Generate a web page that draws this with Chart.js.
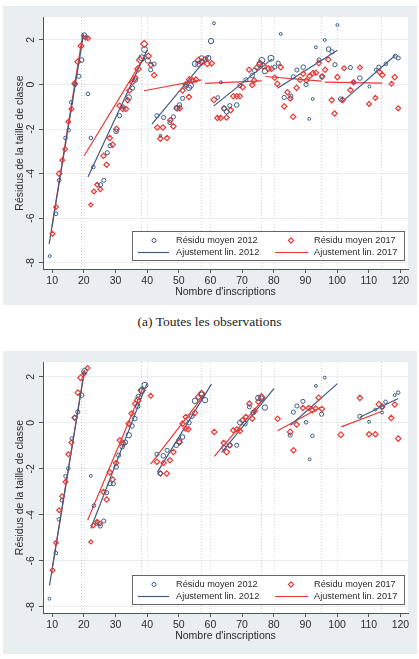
<!DOCTYPE html>
<html><head><meta charset="utf-8">
<script src="https://cdn.jsdelivr.net/npm/chart.js@4/dist/chart.umd.min.js"></script>
<style>
body{margin:0;background:#fff;width:419px;height:659px;position:relative;overflow:hidden;font-family:"Liberation Sans",Arial,sans-serif}
.panel{position:absolute;left:3px;width:414px;background:#e9eef1}
#p1{top:6px;height:299px}
#p2{top:351px;height:303px}
canvas{display:block}
.caption{position:absolute;left:0;width:419px;top:314px;text-align:center;font-family:"Liberation Serif","DejaVu Serif",serif;font-size:13.5px;color:#222}
</style></head>
<body>
<div class="panel" id="p1"><canvas id="c1" width="414" height="299"></canvas></div>
<div class="caption">(a) Toutes les observations</div>
<div class="panel" id="p2"><canvas id="c2" width="414" height="303"></canvas></div>
<script>
// ---- Data (x = nombre d'inscriptions, y = résidu moyen, n = poids) ----
const xTicks = [10,20,30,40,50,60,70,80,90,100,110,120];
const yTicks = [2,0,-2,-4,-6,-8];
const grilleX = [20,40,60,80,100];
const seuils = [19,38,57,76,95,114];
const legendLabels = ['Résidu moyen 2012','Résidu moyen 2017','Ajustement lin. 2012','Ajustement lin. 2017'];

const p1_2012 = [[9.2,-7.7,1],[11.2,-5.8,2],[12.2,-4.3,2],[14.2,-2.4,2],[15.2,-2.05,2],[16.0,-0.8,2],[17.2,0.0,3],[18.4,0.37,3],[19.3,1.1,4],[20.1,2.2,6],
[21.3,-0.42,2],[22.2,-2.4,2],[23.0,-3.7,2],[25.3,-4.5,3],[26.3,-4.3,3],[27.4,-3.06,3],[28.3,-2.75,3],[30.2,-2.1,4],[31.3,-1.4,3],[32.3,-1.0,3],[34.2,-0.58,6],[35.4,-0.16,3],[36.3,0.2,3],[38.3,1.2,8],[39.2,1.57,8],[40.2,1.08,6],
[41.1,0.66,3],[42.2,0.92,3],[43.1,-1.4,3],[44.2,-2.3,1],[45.2,-1.48,3],[47.2,-1.71,3],[48.3,-1.45,3],[49.2,-1.05,4],[50.2,-0.92,4],[51.2,-0.62,3],[52.2,-0.08,3],[53.2,-0.15,6],[53.8,-0.05,6],[55.1,0.93,6],[56.2,0.93,6],[57.2,1.19,4],[59.3,1.19,6],[60.2,1.95,6],[61.1,2.75,1],
[62.3,-0.58,2],[63.3,0.1,1],[64.3,-1.07,4],[65.1,-1.22,4],[66.1,-0.95,3],[68.3,-0.92,4],[69.3,-0.05,3],[71.2,0.21,3],[73.2,0.4,4],[74.0,0.63,4],[75.6,0.9,6],[76.2,1.08,8],[77.2,0.6,6],[79.1,1.18,8],[80.3,0.78,3],[81.4,0.96,3],
[82.2,2.27,1],[83.3,-0.58,3],[85.4,-0.52,3],[86.2,0.35,3],[87.3,0.65,3],[89.3,0.78,4],[90.2,0.0,3],[91.2,-1.54,1],[92.3,-0.65,1],[93.3,1.67,1],[94.3,1.1,3],[95.2,0.33,3],[96.1,2.0,1],[97.3,1.59,4],[98.4,1.47,3],[99.3,0.89,3],[100.1,2.67,1],
[101.1,-0.65,3],[104.2,0.76,3],[105.2,0.1,1],[107.2,0.29,4],[110.2,-0.09,1],[112.2,0.66,1],[113.2,0.78,3],[115.4,0.93,2],[118.4,1.27,3],[119.3,1.19,3]];

const p1_2017 = [[10.1,-6.7,2],[11.2,-5.5,2],[12.2,-4.0,3],[13.2,-3.4,2],[14.1,-2.9,2],[15.1,-1.67,2],[16.1,-1.1,2],[17.1,0.05,3],[18.1,1.02,4],[19.1,1.73,4],[20.6,2.1,2],[21.3,2.08,2],
[22.2,-5.4,1],[23.2,-4.8,2],[24.2,-4.5,2],[25.2,-4.7,2],[26.2,-3.2,3],[27.2,-3.6,3],[28.2,-2.4,3],[29.1,-2.7,3],[30.3,-2.0,4],[31.3,-0.95,3],[32.3,-1.1,3],[33.3,-1.1,3],[33.8,-0.7,3],[34.4,-0.27,3],[35.3,0.1,3],[36.3,0.29,3],[37.1,0.7,6],[37.8,1.1,8],[39.1,1.82,8],[40.4,1.28,4],
[41.2,0.88,3],[42.2,0.42,3],[43.2,-1.93,3],[44.2,-2.43,3],[45.0,-1.93,3],[46.3,-2.4,3],[47.3,-1.6,3],[48.3,-1.88,3],[49.5,-1.07,4],[50.3,-1.06,3],[51.2,-0.27,3],[52.2,0.01,3],[53.2,-0.56,3],[53.3,0.22,4],[54.4,0.18,4],[55.4,0.22,3],[56.2,1.08,6],[57.2,1.0,6],[58.3,1.12,4],[59.0,0.93,4],[60.4,0.95,3],
[61.1,-0.68,4],[62.2,-1.5,3],[63.2,-1.5,3],[64.3,-1.08,3],[65.1,-1.48,3],[66.4,-1.15,3],[67.2,-0.53,3],[68.3,-0.53,3],[69.3,-0.53,3],[70.2,-0.12,3],[72.2,0.66,3],[73.2,-0.02,3],[73.8,0.18,3],[74.6,0.76,3],[75.6,0.96,4],[76.7,0.84,6],[78.3,0.71,4],[79.3,0.71,3],
[80.3,0.3,3],[81.1,0.03,3],[82.2,0.78,3],[83.3,-0.98,3],[84.3,-0.35,3],[85.2,-0.63,3],[86.1,-1.45,3],[87.2,-0.15,3],[88.3,0.21,3],[89.3,0.48,3],[90.3,0.18,3],[91.3,0.38,3],[92.4,0.51,3],[93.3,0.53,3],[94.2,0.96,3],[95.3,0.37,3],[96.2,0.66,3],[97.2,1.12,3],[100.1,0.33,3],
[98.3,-0.7,3],[99.2,-1.3,3],[101.7,-0.7,4],[102.2,0.73,2],[104.2,-0.25,3],[105.2,0.1,3],[107.2,0.76,2],[110.1,-0.87,2],[112.1,-0.6,2],[113.4,0.56,3],[114.3,0.43,3],[117.2,0.03,2],[118.2,0.33,3],[119.3,-1.07,2]];

const p2_2012 = [[9.15,-7.65,1],[11.15,-5.66,2],[12.1,-4.2,2],[13.1,-3.37,2],[14.2,-2.33,2],[15.1,-1.99,2],[16.2,-0.69,2],[17.2,0.22,3],[18.1,0.47,3],[19.3,1.2,4],[20.2,2.24,6],
[22.2,-2.31,1],[23.2,-3.6,2],[24.1,-4.38,2],[25.2,-4.49,3],[26.3,-4.27,3],[27.2,-3.04,3],[28.3,-2.65,3],[29.3,-2.65,3],[30.2,-1.92,4],[31.0,-1.41,3],[32.1,-1.04,4],[33.1,-0.85,4],[34.2,-0.54,6],[35.2,-0.14,4],[36.1,0.18,4],[37.0,0.72,4],[37.3,1.12,6],[38.3,1.38,6],[39.3,1.63,8],
[43.1,-1.37,3],[44.2,-2.2,3],[45.1,-1.44,4],[46.3,-1.2,3],[49.2,-0.98,4],[50.1,-0.8,6],[51.2,-0.62,4],[53.2,0.0,4],[54.1,0.28,4],[55.1,0.95,6],[57.2,1.22,6],[58.3,0.98,6],
[64.2,-1.08,3],[66.1,-0.98,4],[68.3,-0.98,3],[69.3,0.0,4],[70.9,-0.04,4],[72.3,0.69,3],[73.5,0.44,4],[75.1,1.08,6],[76.1,1.05,6],[77.2,0.66,6],
[85.2,-0.54,3],[86.2,0.46,3],[87.3,0.73,3],[89.2,0.93,3],[90.2,0.02,2],[91.3,-1.59,1],[92.2,-0.57,2],[93.3,1.6,1],[95.1,0.37,3],[96.1,1.96,1],
[107.2,0.28,3],[110.1,0.04,1],[112.1,0.57,1],[114.2,0.69,3],[114.2,0.44,1],[115.3,0.91,2],[118.2,1.2,1],[119.3,1.31,2]];

const p2_2017 = [[10.1,-6.41,2],[11.2,-5.22,2],[12.2,-3.8,2],[13.1,-3.2,2],[14.2,-2.57,2],[15.1,-1.37,2],[16.1,-0.86,2],[17.1,0.22,3],[18.1,1.31,3],[19.0,1.96,4],[20.1,2.14,2],[21.2,2.38,2],
[22.2,-5.18,1],[23.0,-4.46,2],[24.2,-4.3,2],[25.1,-4.38,2],[26.2,-3.01,3],[27.2,-3.34,3],[28.2,-2.15,3],[29.1,-2.47,3],[30.2,-1.75,3],[31.4,-0.76,3],[32.5,-0.91,3],[34.2,-0.04,3],[35.1,0.4,3],[36.2,0.83,3],[37.0,0.98,6],[38.3,1.41,8],[41.1,1.17,2],
[43.1,-1.7,3],[44.2,-2.21,3],[45.2,-1.75,3],[46.2,-2.21,3],[47.2,-1.63,3],[48.3,-1.27,3],[50.2,-0.85,4],[51.2,-0.04,3],[52.2,0.25,3],[52.2,-0.25,3],[53.0,-0.28,3],[55.1,0.43,3],[56.2,1.12,4],[57.2,1.27,6],
[61.2,-0.4,3],[64.2,-0.88,3],[65.1,-1.27,4],[66.1,-0.98,3],[67.2,-0.33,3],[68.3,-0.28,3],[69.3,-0.36,3],[70.1,0.11,3],[71.2,0.25,3],[72.3,0.83,3],[73.2,0.18,3],[74.0,0.51,3],[75.1,0.91,3],[76.1,1.12,6],
[81.2,0.17,3],[85.2,-0.4,4],[86.2,-1.2,3],[87.2,-0.08,3],[89.2,0.64,3],[91.1,0.64,3],[92.2,0.54,3],[93.2,0.62,3],[94.2,1.09,3],[95.2,0.6,3],
[101.2,-0.52,4],[107.2,1.08,3],[110.1,-0.5,3],[112.1,-0.5,3],[113.2,0.8,4],[114.2,0.69,4],[117.1,0.21,3],[118.2,0.79,3],[119.3,-0.69,3]];

// linear fits per segment: [x start, y start, x end, y end]
const p1_fit2012 = [[9.05,-7.15,19.9,2.25],[21.3,-4.15,40.0,1.55],[41.5,-1.78,59.5,1.3],[61.0,-0.97,79.5,1.15],[81.2,-0.17,100.1,1.54],[101.4,-0.8,118.4,1.31]];
const p1_fit2017 = [[9.9,-6.4,19.7,2.3],[20.1,-3.2,39.1,1.23],[39.0,-0.28,57.2,0.21],[58.3,0.05,76.2,0.16],[77.3,0.36,95.1,0.15],[96.1,0.11,114.3,0.06]];
const p2_fit2012 = [[9.15,-7.07,20.2,2.28],[22.2,-4.6,39.9,1.7],[43.2,-2.16,60.3,1.68],[63.5,-1.3,80.1,1.49],[85.3,-0.11,100.1,1.7],[107.2,0.24,119.3,1.05]];
const p2_fit2017 = [[10.1,-6.27,20.2,2.3],[21.2,-4.24,38.8,1.56],[41.1,-1.8,58.3,1.27],[61.2,-1.46,77.2,1.1],[81.2,-0.35,94.8,0.67],[101.3,-0.18,114.2,0.5]];

// ---- Styles ----
const BLUE = '#3d5c84';
const RED = '#ea3a36';
const TXT = '#2a2a2a';
Chart.defaults.font.family = '"Liberation Sans", Arial, sans-serif';
const rCircle = n => 0.85 * Math.sqrt(n) + 0.6;
const rDiamond = n => 0.8 * Math.sqrt(n) + 1.3;

function pts(arr){ return arr.map(p => ({x:p[0], y:p[1]})); }
function segs(arr){
  const out = [];
  arr.forEach((s,i) => {
    if (i) out.push({x: s[0], y: null});
    out.push({x: s[0], y: s[1]});
    out.push({x: s[2], y: s[3]});
  });
  return out;
}

const decor = {
  id: 'decor',
  beforeDraw(chart){
    const {ctx, chartArea: a} = chart;
    ctx.save(); ctx.fillStyle = '#fff';
    ctx.fillRect(a.left, a.top, a.right - a.left, a.bottom - a.top);
    ctx.restore();
  },
  beforeDatasetsDraw(chart){
    const {ctx, chartArea: a, scales: {x}} = chart;
    ctx.save();
    ctx.lineWidth = 1;
    ctx.setLineDash([1, 2]);
    grilleX.forEach(v => {
      const px = Math.round(x.getPixelForValue(v)) + 0.5;
      ctx.strokeStyle = 'rgba(185,190,196,0.55)';
      ctx.beginPath(); ctx.moveTo(px, a.top); ctx.lineTo(px, a.bottom); ctx.stroke();
    });
    seuils.forEach(v => {
      const px = Math.round(x.getPixelForValue(v)) + 0.5;
      ctx.strokeStyle = 'rgba(238,140,145,0.55)';
      ctx.beginPath(); ctx.moveTo(px, a.top); ctx.lineTo(px, a.bottom); ctx.stroke();
    });
    ctx.restore();
  },
  afterDraw(chart){
    const {ctx, chartArea: a, scales: {y}} = chart;
    ctx.save();
    // rotated y tick labels
    ctx.fillStyle = TXT;
    ctx.font = '10.5px "Liberation Sans", Arial, sans-serif';
    ctx.textAlign = 'center'; ctx.textBaseline = 'middle';
    yTicks.forEach(v => {
      const py = y.getPixelForValue(v);
      ctx.save(); ctx.translate(a.left - 12, py); ctx.rotate(-Math.PI/2);
      ctx.fillText(String(v), 0, 0); ctx.restore();
    });
    // legend box
    const W = 272, H = 29;
    const L = a.right - 4 - W, T = a.bottom - 9 - H;
    ctx.fillStyle = '#fff'; ctx.fillRect(L, T, W, H);
    ctx.strokeStyle = '#666'; ctx.lineWidth = 1;
    ctx.strokeRect(Math.round(L) + 0.5, Math.round(T) + 0.5, W, H);
    const r1 = T + 9.5, r2 = T + 21.5;
    ctx.strokeStyle = BLUE; ctx.lineWidth = 1;
    ctx.beginPath(); ctx.arc(L + 22, r1, 2.0, 0, Math.PI*2); ctx.stroke();
    ctx.strokeStyle = RED; ctx.lineWidth = 1.2;
    const d = 2.6, cx = L + 159;
    ctx.beginPath(); ctx.moveTo(cx, r1 - d); ctx.lineTo(cx + d, r1); ctx.lineTo(cx, r1 + d); ctx.lineTo(cx - d, r1); ctx.closePath(); ctx.stroke();
    ctx.lineWidth = 1.2;
    ctx.strokeStyle = BLUE; ctx.beginPath(); ctx.moveTo(L + 6, r2); ctx.lineTo(L + 37, r2); ctx.stroke();
    ctx.strokeStyle = RED; ctx.beginPath(); ctx.moveTo(L + 143, r2); ctx.lineTo(L + 176, r2); ctx.stroke();
    ctx.fillStyle = TXT;
    ctx.font = '9.2px "Liberation Sans", Arial, sans-serif';
    ctx.textAlign = 'left';
    ctx.fillText(legendLabels[0], L + 44, r1);
    ctx.fillText(legendLabels[1], L + 182, r1);
    ctx.fillText(legendLabels[2], L + 44, r2);
    ctx.fillText(legendLabels[3], L + 182, r2);
    ctx.restore();
  }
};

function makeChart(id, d12, d17, f12, f17, yMin, yMax, xH, titleBottom){
  return new Chart(document.getElementById(id), {
    type: 'scatter',
    data: { datasets: [
      { label: legendLabels[0], data: pts(d12), pointStyle: 'circle',
        pointRadius: d12.map(p => rCircle(p[2])), borderColor: BLUE, backgroundColor: 'rgba(0,0,0,0)', borderWidth: 1 },
      { label: legendLabels[1], data: pts(d17), pointStyle: 'rectRot',
        pointRadius: d17.map(p => rDiamond(p[2])), borderColor: RED, backgroundColor: 'rgba(0,0,0,0)', borderWidth: 1.2 },
      { type: 'line', label: legendLabels[2], data: segs(f12), borderColor: BLUE, borderWidth: 1.2,
        pointRadius: 0, spanGaps: false, fill: false, tension: 0 },
      { type: 'line', label: legendLabels[3], data: segs(f17), borderColor: RED, borderWidth: 1.2,
        pointRadius: 0, spanGaps: false, fill: false, tension: 0 }
    ]},
    options: {
      responsive: false, animation: false, events: [],
      layout: { padding: { top: 11, right: 9, left: 0, bottom: 0 } },
      plugins: { legend: { display: false }, tooltip: { enabled: false } },
      scales: {
        x: { type: 'linear', min: 7.1, max: 122.4,
          afterBuildTicks: s => { s.ticks = xTicks.map(v => ({value: v})); },
          afterFit: s => { s.height = xH; },
          grid: { drawOnChartArea: false, drawTicks: true, tickLength: 4, tickColor: '#555', tickWidth: 1 },
          border: { color: '#555', width: 1 },
          ticks: { color: TXT, font: { size: 10.5 }, padding: 2, maxRotation: 0, autoSkip: false },
          title: { display: true, text: "Nombre d'inscriptions", color: TXT, font: { size: 10.5 }, padding: { top: 0, bottom: titleBottom } }
        },
        y: { type: 'linear', min: yMin, max: yMax,
          afterBuildTicks: s => { s.ticks = yTicks.map(v => ({value: v})); },
          afterFit: s => { s.width = 40; },
          grid: { color: '#eaeef1', lineWidth: 1, drawTicks: true, tickLength: 4, tickColor: '#555', tickWidth: 1 },
          border: { color: '#555', width: 1 },
          ticks: { display: false },
          title: { display: true, text: 'Résidus de la taille de classe', color: TXT, font: { size: 10.5 }, padding: { top: 10.7, bottom: 0 } }
        }
      }
    },
    plugins: [decor]
  });
}

makeChart('c1', p1_2012, p1_2017, p1_fit2012, p1_fit2017, -8.28, 3.03, 36, 6.2);
makeChart('c2', p2_2012, p2_2017, p2_fit2012, p2_fit2017, -8.27, 2.64, 41, 11.7);
</script>
</body></html>
